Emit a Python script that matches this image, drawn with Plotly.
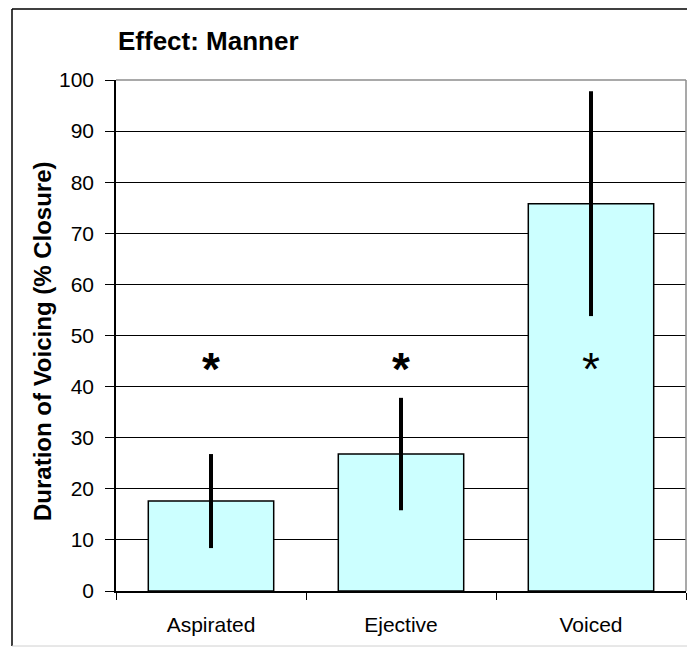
import plotly.graph_objects as go

# Voicing duration by manner of articulation
categories = ["Aspirated", "Ejective", "Voiced"]
mean_voicing = [17.6, 26.8, 75.8]
error_margin = [9.2, 11.0, 22.0]
star_level = [42.5, 42.5, 42.5]
y_ticks = list(range(0, 101, 10))

W, H = 687, 649
L, R, T, B = 116, 1, 80, 58
PW, PH = W - L - R, H - T - B


def px_x(p):
    return (p - L) / PW


def px_y(p):
    return (H - B - p) / PH


FONT = "Liberation Sans, Arial, sans-serif"

fig = go.Figure()

fig.add_trace(go.Bar(
    x=categories,
    y=mean_voicing,
    marker=dict(color="#CCFFFF", line=dict(color="#000000", width=1.5)),
    error_y=dict(type="data", array=error_margin, visible=True,
                 color="#000000", thickness=4, width=0),
    showlegend=False,
    hoverinfo="x+y",
))

fig.add_trace(go.Scatter(
    x=categories,
    y=star_level,
    mode="text",
    text=["<b>*</b>", "<b>*</b>", "*"],
    textposition="middle center",
    textfont=dict(family=FONT, size=46, color="#000000"),
    showlegend=False,
    hoverinfo="skip",
))

fig.update_layout(
    width=W, height=H,
    margin=dict(l=L, r=R, t=T, b=B, pad=0),
    paper_bgcolor="#FFFFFF",
    plot_bgcolor="#FFFFFF",
    bargap=0.34,
    font=dict(family=FONT, color="#000000"),
    xaxis=dict(
        type="category",
        showline=True, linecolor="#000000", linewidth=1.5,
        ticks="outside", ticklen=7, tickcolor="#000000", tickwidth=1,
        tickson="boundaries",
        showgrid=False,
        tickfont=dict(family=FONT, size=21, color="#000000"),
        ticklabelstandoff=14,
        fixedrange=True,
    ),
    yaxis=dict(
        range=[0, 100],
        tickvals=y_ticks,
        showline=True, linecolor="#000000", linewidth=1.5,
        ticks="outside", ticklen=9, tickcolor="#000000", tickwidth=1,
        showgrid=True, gridcolor="#000000", gridwidth=1.2,
        zeroline=False,
        tickfont=dict(family=FONT, size=21, color="#000000"),
        ticklabelstandoff=7,
        fixedrange=True,
    ),
    annotations=[
        dict(text="<b>Effect: Manner</b>", xref="paper", yref="paper",
             x=px_x(116), y=px_y(41), xanchor="left", yanchor="middle",
             showarrow=False, font=dict(family=FONT, size=26, color="#000000")),
        dict(text="<b>Duration of Voicing (% Closure)</b>", xref="paper", yref="paper",
             x=px_x(42), y=px_y(341), xanchor="center", yanchor="middle",
             textangle=-90, showarrow=False,
             font=dict(family=FONT, size=24, color="#000000")),
    ],
    shapes=[
        # plot-area top and right border
        dict(type="line", xref="paper", yref="paper", x0=0, x1=1, y0=1, y1=1,
             line=dict(color="#8C8C8C", width=1.5), layer="above"),
        dict(type="line", xref="paper", yref="paper", x0=1, x1=1, y0=0, y1=1,
             line=dict(color="#8C8C8C", width=1.5), layer="above"),
        # outer chart frame
        dict(type="line", xref="paper", yref="paper",
             x0=px_x(12), x1=px_x(W + 5), y0=px_y(9), y1=px_y(9),
             line=dict(color="#000000", width=1.5), layer="above"),
        dict(type="line", xref="paper", yref="paper",
             x0=px_x(12), x1=px_x(12), y0=px_y(9), y1=px_y(646),
             line=dict(color="#000000", width=1.5), layer="above"),
        dict(type="line", xref="paper", yref="paper",
             x0=px_x(12), x1=px_x(W + 5), y0=px_y(646), y1=px_y(646),
             line=dict(color="#D0D0D0", width=1), layer="above"),
    ],
)

fig.write_html("out.html")
